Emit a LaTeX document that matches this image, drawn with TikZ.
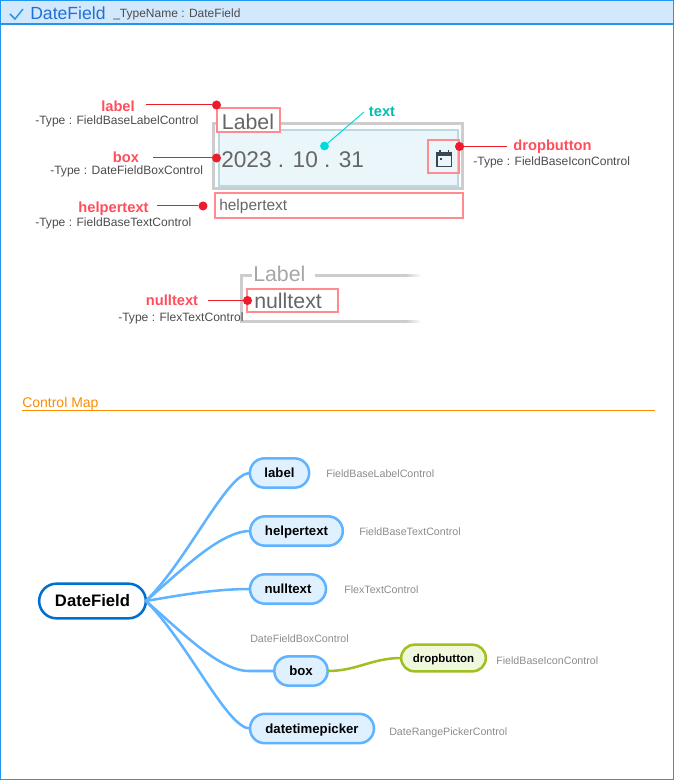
\documentclass[tikz,border=0pt]{standalone}
\usepackage{fontspec}
\setmainfont{Liberation Sans}
\usetikzlibrary{shapes.misc}
\definecolor{framecol}{HTML}{2196F0}
\definecolor{headcol}{HTML}{D2E9FD}
\definecolor{titlecol}{HTML}{2070D8}
\definecolor{pinkcol}{HTML}{FF8A90}
\definecolor{redcol}{HTML}{EC1C2C}
\definecolor{tagcol}{HTML}{FF4D5C}
\definecolor{graycol}{HTML}{CDCDCD}
\definecolor{inkcol}{HTML}{666666}
\definecolor{tealcol}{HTML}{00BDB0}
\definecolor{cyancol}{HTML}{00DDD8}
\definecolor{orangecol}{HTML}{FF8C00}
\definecolor{branchcol}{HTML}{5FB3FF}
\definecolor{branchfill}{HTML}{DFF0FF}
\definecolor{rootcol}{HTML}{0070D0}
\definecolor{leafcol}{HTML}{A0C020}
\definecolor{leaffill}{HTML}{EFF7DC}
\definecolor{fieldedge}{HTML}{BCD8E2}
\definecolor{fieldfill}{HTML}{EAF6F9}
\definecolor{iconcol}{HTML}{3A4555}
\newcommand{\pxsize}[1]{\fontsize{#1}{#1}\selectfont}
\begin{document}
\begin{tikzpicture}[x=0.75pt,y=-0.75pt,
    tag/.style={text=tagcol,font=\pxsize{11}\bfseries,inner sep=0pt,text height=9.6pt,text depth=2pt},
    typeinfo/.style={anchor=west,text=black!70,font=\pxsize{9.05},inner sep=0pt,text height=8pt,text depth=2pt},
    pinkbox/.style={draw=pinkcol,line width=1.5pt,fill=white,inner sep=0pt,outer sep=0pt,text=inkcol,anchor=north west},
    reddot/.style={circle,fill=redcol,minimum size=6.8pt,inner sep=0pt},
    leader/.style={draw=redcol,line width=0.75pt},
    fieldline/.style={draw=graycol,line width=2.25pt},
    topic/.style={rounded rectangle,draw=branchcol,fill=branchfill,line width=1.9pt,inner sep=0pt,outer sep=0pt,minimum height=22pt,text height=9pt,text depth=2pt,font=\pxsize{9.9}\bfseries},
    branch/.style={draw=branchcol,line width=1.9pt},
    mapinfo/.style={anchor=west,text=black!45,font=\pxsize{8},inner sep=0pt,text height=8pt,text depth=2pt}]
    \useasboundingbox (0,0) rectangle (674,780);
    \node [draw=framecol,fill=headcol,line width=0.9pt,outer sep=0pt,minimum width=504.6pt,minimum height=17.6pt,anchor=north west,inner sep=0pt] (head) at (0.6,0.6) {};
    \node [draw=framecol,line width=1.1pt,outer sep=0pt,minimum width=504.6pt,minimum height=584pt,anchor=north west,inner sep=0pt] (frame) at (0.6,0.6) {};
    \draw [framecol,line width=1.1pt] (10,14) -- (15,19) -- (23,9);
    \node [anchor=west,inner sep=0pt,text=titlecol,font=\pxsize{13.2}] (title) at (30,13) {DateField};
    \node [anchor=west,inner sep=0pt,text=black!70,font=\pxsize{9}] (typename) at (113,14) {\_TypeName : DateField};

    \node [draw=graycol,line width=2.25pt,outer sep=0pt,minimum width=186.75pt,minimum height=48.4pt,anchor=north west,inner sep=0pt] (outer) at (213.5,123.5) {};
    \node [draw=fieldedge,fill=fieldfill,line width=1.5pt,outer sep=0pt,minimum width=179.25pt,minimum height=41.4pt,anchor=north west,inner sep=0pt] (inner) at (218.5,130.5) {};
    \node [pinkbox,minimum width=47.25pt,minimum height=18pt,text height=13.3pt,text depth=0pt,font=\pxsize{16}] (labelbox) at (216.5,108.5) {Label};
    \node [pinkbox,fill=none,minimum width=23.6pt,minimum height=24.75pt] (iconbox) at (427.5,140.5) {};
    \node [pinkbox,minimum width=186pt,minimum height=18.6pt] (helperbox) at (215,192.8) {};
    \node [anchor=west,inner sep=0pt,text=inkcol,font=\pxsize{17}] (value) at (221,160) {2023 . 10 . 31};
    \node [anchor=west,inner sep=0pt,text=inkcol,font=\pxsize{11.6}] (helpervalue) at (219,206.7) {helpertext};
    \draw [iconcol,line width=1.2pt] (437,153) rectangle (451.5,166.5);
    \draw [iconcol,line width=2pt] (437,155) -- (451.5,155);
    \draw [iconcol,line width=1.3pt] (440,150) -- (440,153) (448.5,150) -- (448.5,153);
    \fill [iconcol] (439.5,158.5) rectangle (442,160.5);

    \node [tag] (labeltag) at (118,106) {label};
    \node [typeinfo] (labeltype) at (35,121) {-Type : FieldBaseLabelControl};
    \node [reddot] (labeldot) at (216.5,105) {};
    \coordinate (labelend) at (146,105);
    \draw [leader] (labelend) -- (labeldot);
    \node [tag] (boxtag) at (126,157) {box};
    \node [typeinfo] (boxtype) at (50,171) {-Type : DateFieldBoxControl};
    \node [reddot] (boxdot) at (216.5,158) {};
    \coordinate (boxend) at (153,158);
    \draw [leader] (boxend) -- (boxdot);
    \node [tag] (helpertag) at (113.5,207) {helpertext};
    \node [typeinfo] (helpertype) at (35,223) {-Type : FieldBaseTextControl};
    \node [reddot] (helperdot) at (203,206) {};
    \coordinate (helperend) at (157,206);
    \draw [leader] (helperend) -- (helperdot);
    \node [tag] (droptag) at (552.5,145) {dropbutton};
    \node [typeinfo] (droptype) at (473,162) {-Type : FieldBaseIconControl};
    \node [reddot] (dropdot) at (459.5,146.5) {};
    \coordinate (dropend) at (507,146.5);
    \draw [leader] (dropend) -- (dropdot);
    \node [tag,text=tealcol] (texttag) at (382,111) {text};
    \node [circle,fill=cyancol,minimum size=6.6pt,inner sep=0pt] (textdot) at (324.5,146) {};
    \coordinate (textend) at (364,112);
    \draw [cyancol,line width=0.75pt] (textend) -- (textdot);

    \draw [fieldline] (252,275.5) -- (241.5,275.5) -- (241.5,321.5) -- (407,321.5);
    \draw [fieldline] (315,275.5) -- (407,275.5);
    \foreach \step in {0,...,6} {
      \pgfmathsetmacro{\shade}{90-\step*13}
      \draw [draw=graycol!\shade!white,line width=2.25pt] (407+2*\step,275.5) -- (409+2*\step,275.5);
      \draw [draw=graycol!\shade!white,line width=2.25pt] (407+2*\step,321.5) -- (409+2*\step,321.5);
    }
    \node [anchor=west,inner sep=0pt,text=black!35,font=\pxsize{16}] (nulllabel) at (253,274) {Label};
    \node [pinkbox,fill=none,minimum width=68.25pt,minimum height=17.9pt] (nullbox) at (246.5,288.5) {};
    \node [anchor=west,inner sep=0pt,text=inkcol,font=\pxsize{16}] (nullvalue) at (254,301) {nulltext};
    \node [tag] (nulltag) at (172,300) {nulltext};
    \node [typeinfo] (nulltype) at (118,317) {-Type : FlexTextControl};
    \node [reddot] (nulldot) at (247.5,300.5) {};
    \coordinate (nullend) at (208,300.5);
    \draw [leader] (nullend) -- (nulldot);

    \node [anchor=west,inner sep=0pt,text=orangecol,font=\pxsize{10.5}] (maptitle) at (22,403.5) {Control Map};
    \coordinate (mapstart) at (22,410.5);
    \coordinate (mapend) at (655,410.5);
    \draw [orangecol,line width=0.75pt] (mapstart) -- (mapend);

    \node [rounded rectangle,draw=rootcol,fill=white,line width=1.9pt,outer sep=0pt,minimum width=80pt,minimum height=26pt,inner sep=0pt,text height=10.6pt,text depth=2pt,font=\pxsize{12.5}\bfseries] (root) at (92.5,601) {DateField};
    \node [topic,minimum width=44.5pt] (label) at (279.5,473) {label};
    \node [topic,minimum width=69.5pt] (helpertext) at (296.5,531) {helpertext};
    \node [topic,minimum width=57pt] (nulltext) at (288,589) {nulltext};
    \node [topic,minimum width=40pt] (box) at (301,671) {box};
    \node [topic,minimum width=93pt] (datetimepicker) at (312,728.5) {datetimepicker};
    \node [topic,draw=leafcol,fill=leaffill,minimum width=63.5pt,minimum height=20pt,font=\pxsize{8.6}\bfseries] (dropbutton) at (443.5,658) {dropbutton};
    \coordinate (boxjoin) at (249,671);

    \draw [branch] (root.east) .. controls +(42,-41) and +(-23,0) .. (label.west);
    \draw [branch] (root.east) .. controls +(35,-30) and +(-30,0) .. (helpertext.west);
    \draw [branch] (root.east) .. controls +(35,-6) and +(-35,0) .. (nulltext.west);
    \draw [branch] (root.east) .. controls +(35,30) and +(-30,0) .. (boxjoin) -- (box.west);
    \draw [branch] (root.east) .. controls +(42,41) and +(-23,0) .. (datetimepicker.west);
    \draw [draw=leafcol,line width=1.9pt] (box.east) to [out=0,in=180] (dropbutton.west);

    \node [mapinfo] (labelinfo) at (326,473) {FieldBaseLabelControl};
    \node [mapinfo] (helperinfo) at (359,531) {FieldBaseTextControl};
    \node [mapinfo] (nullinfo) at (344,589) {FlexTextControl};
    \node [mapinfo] (boxinfo) at (250,638) {DateFieldBoxControl};
    \node [mapinfo] (dropinfo) at (496,660) {FieldBaseIconControl};
    \node [mapinfo] (pickerinfo) at (389,731) {DateRangePickerControl};
\end{tikzpicture}
\end{document}
